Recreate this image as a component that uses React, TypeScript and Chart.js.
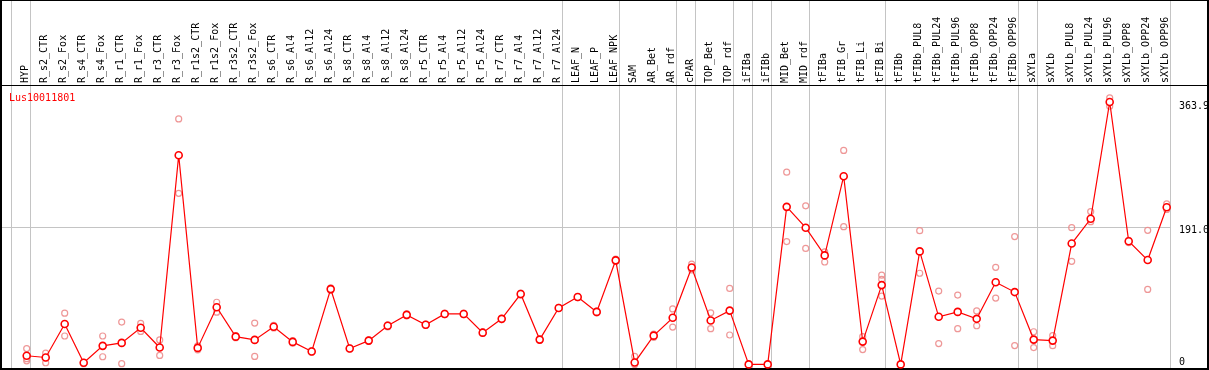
import React, { useEffect, useRef } from 'react';
import { Chart, registerables } from 'chart.js';

Chart.register(...registerables);

const categories = [
  'HYP', 'R_s2_CTR', 'R_s2_Fox', 'R_s4_CTR', 'R_s4_Fox', 'R_r1_CTR', 'R_r1_Fox', 'R_r3_CTR', 'R_r3_Fox',
  'R_r1s2_CTR', 'R_r1s2_Fox', 'R_r3s2_CTR', 'R_r3s2_Fox', 'R_s6_CTR', 'R_s6_Al4', 'R_s6_Al12', 'R_s6_Al24',
  'R_s8_CTR', 'R_s8_Al4', 'R_s8_Al12', 'R_s8_Al24', 'R_r5_CTR', 'R_r5_Al4', 'R_r5_Al12', 'R_r5_Al24',
  'R_r7_CTR', 'R_r7_Al4', 'R_r7_Al12', 'R_r7_Al24', 'LEAF_N', 'LEAF_P', 'LEAF_NPK', 'SAM', 'AR_Bet', 'AR_rdf',
  'cPAR', 'TOP_Bet', 'TOP_rdf', 'iFIBa', 'iFIBb', 'MID_Bet', 'MID_rdf', 'tFIBa', 'tFIB_Gr', 'tFIB_Li', 'tFIB_Bi',
  'tFIBb', 'tFIBb_PUL8', 'tFIBb_PUL24', 'tFIBb_PUL96', 'tFIBb_OPP8', 'tFIBb_OPP24', 'tFIBb_OPP96',
  'sXYLa', 'sXYLb', 'sXYLb_PUL8', 'sXYLb_PUL24', 'sXYLb_PUL96', 'sXYLb_OPP8', 'sXYLb_OPP24', 'sXYLb_OPP96',
];

const meanValues = [
  12, 9.6, 56, 2.3, 25.7, 29.8, 50.8, 23.4, 290,
  22.9, 79.3, 38.5, 34, 52.2, 31.2, 17.9, 104.4,
  22, 33, 53.6, 68.7, 55, 70, 70, 44,
  63.2, 97.6, 34.4, 78.3, 93.4, 72.8, 144.3, 2.7, 39.9, 64.6,
  134.3, 60.9, 74.6, 0, 0, 218.5, 189.6, 151.2, 261, 31.6, 110,
  0, 156.7, 66, 72.8, 63.2, 114, 100.3,
  34.4, 33, 167.6, 202, 363.9, 170.8, 144.7, 218,
];

const replicateA = [
  22, 15.5, 71, 3, 39.4, 58.7, 56.8, 34, 340.4,
  25.7, 86.2, 40, 57.3, 54, 33, 19, 106,
  23, 34, 55, 70, 56, 71, 71, 45,
  64, 99, 35, 79, 94, 74, 146, 11, 42, 77,
  139, 71.5, 105.4, 0, 0, 266.6, 219.9, 156, 296.8, 38.5, 123.7,
  0, 185.5, 101.7, 96.2, 74.2, 134.7, 177.3,
  45.3, 40, 189.6, 212, 369.6, 172, 186, 222.6,
];

const replicateB = [
  8, 2.3, 39.4, 1, 10.6, 1, 45.8, 12.4, 237.3,
  20.2, 72.4, 37, 11, 50.5, 29.5, 17, 103,
  21, 32, 52, 67.5, 54, 69, 69, 43,
  62, 96, 33.5, 77.5, 92.5, 71.5, 143, 0, 37.5, 51.8,
  131, 49.5, 40.8, 0, 0, 170.4, 160.8, 142, 191, 20.6, 94.8,
  0, 126.4, 28.9, 49.5, 53.6, 92, 26.1,
  23.4, 26, 143, 198, 358, 169, 104, 214.8,
];

const replicateC = [
  5, 9, null, null, null, null, null, null, null,
  null, null, null, null, null, null, null, null,
  null, null, null, null, null, null, null, null,
  null, null, null, null, null, null, null, null, null, null,
  null, null, null, null, null, null, null, null, null, null, 118,
  null, null, null, null, null, null, null,
  null, null, null, null, null, null, null, null,
];

const yTickValues = [363.9, 191.0, 0];
const yTickLabels = ['363.9', '191.0', '0'];
const gridValue = 191.0;
const groupEnds = [-1, 0, 28, 31, 34, 35, 37, 38, 39, 41, 45, 52, 53, 60];
const geneTitle = 'Lus10011801';

const W = 1209;
const H = 370;
const MONO = '"DejaVu Sans Mono", "Liberation Mono", monospace';

const framePlugin = {
  id: 'framePlugin',
  beforeDatasetsDraw(chart: any) {
    const ctx = chart.ctx;
    const xs = chart.scales.x;
    const ys = chart.scales.y;
    ctx.save();
    ctx.fillStyle = '#c4c4c4';
    groupEnds.forEach((i) => {
      const x = Math.round(xs.getPixelForValue(i) + 3.6);
      ctx.fillRect(x, 0, 1, 369);
    });
    const gy = Math.round(ys.getPixelForValue(gridValue));
    ctx.fillRect(0, gy, 1170, 1);
    ctx.fillStyle = '#000';
    ctx.fillRect(0, 0, W, 1);
    ctx.fillRect(0, 85, W, 1);
    ctx.fillRect(0, 0, 2, H);
    ctx.fillRect(W - 2, 0, 2, H);
    ctx.fillRect(0, 368, W, 2);
    ctx.font = '10px ' + MONO;
    ctx.fillStyle = '#ff0000';
    ctx.textBaseline = 'alphabetic';
    ctx.textAlign = 'left';
    ctx.fillText(geneTitle, 9, 101);
    ctx.fillStyle = '#000';
    ctx.textBaseline = 'top';
    yTickValues.forEach((v, k) => {
      const y = Math.min(ys.getPixelForValue(v) - 1, 357);
      ctx.fillText(yTickLabels[k], 1179, y);
    });
    ctx.restore();
  },
};

export default function App() {
  const ref = useRef<HTMLCanvasElement | null>(null);
  useEffect(() => {
    if (!ref.current) return;
    const repStyle = {
      showLine: false,
      pointStyle: 'circle',
      pointRadius: 3,
      pointBorderWidth: 1.2,
      pointBorderColor: 'rgba(236,140,140,0.9)',
      pointBackgroundColor: 'rgba(0,0,0,0)',
      borderColor: 'rgba(0,0,0,0)',
      clip: false,
    };
    const chart = new Chart(ref.current, {
      type: 'line',
      data: {
        labels: categories,
        datasets: [
          {
            data: meanValues,
            borderColor: '#ff0000',
            borderWidth: 1.2,
            pointRadius: 3.5,
            pointBorderWidth: 1.6,
            pointBorderColor: '#ff0000',
            pointBackgroundColor: '#ffffff',
            tension: 0,
            clip: false,
          } as any,
          { ...repStyle, data: replicateA } as any,
          { ...repStyle, data: replicateB } as any,
          { ...repStyle, data: replicateC } as any,
        ],
      },
      plugins: [framePlugin],
      options: {
        animation: false,
        responsive: false,
        devicePixelRatio: 1,
        events: [],
        layout: { padding: { left: 17.2, right: 32.8, top: 0, bottom: 3 } },
        plugins: { legend: { display: false }, tooltip: { enabled: false }, title: { display: false } },
        scales: {
          x: {
            type: 'category',
            position: 'top',
            offset: true,
            grid: { display: false, drawTicks: false, tickLength: 0 },
            border: { display: false },
            afterFit: (scale: any) => { scale.height = 85; },
            ticks: {
              autoSkip: false,
              maxRotation: 90,
              minRotation: 90,
              padding: 2,
              labelOffset: 10.5,
              color: '#000',
              font: { family: MONO, size: 10 },
            },
          },
          y: {
            display: false,
            min: 0,
            max: 387.5,
          },
        },
      } as any,
    });
    return () => chart.destroy();
  }, []);
  return (
    <div style={{ position: 'fixed', left: 0, top: 0, width: W, height: H, background: '#fff' }}>
      <canvas ref={ref} width={W} height={H} style={{ width: W, height: H, display: 'block' }} />
    </div>
  );
}
